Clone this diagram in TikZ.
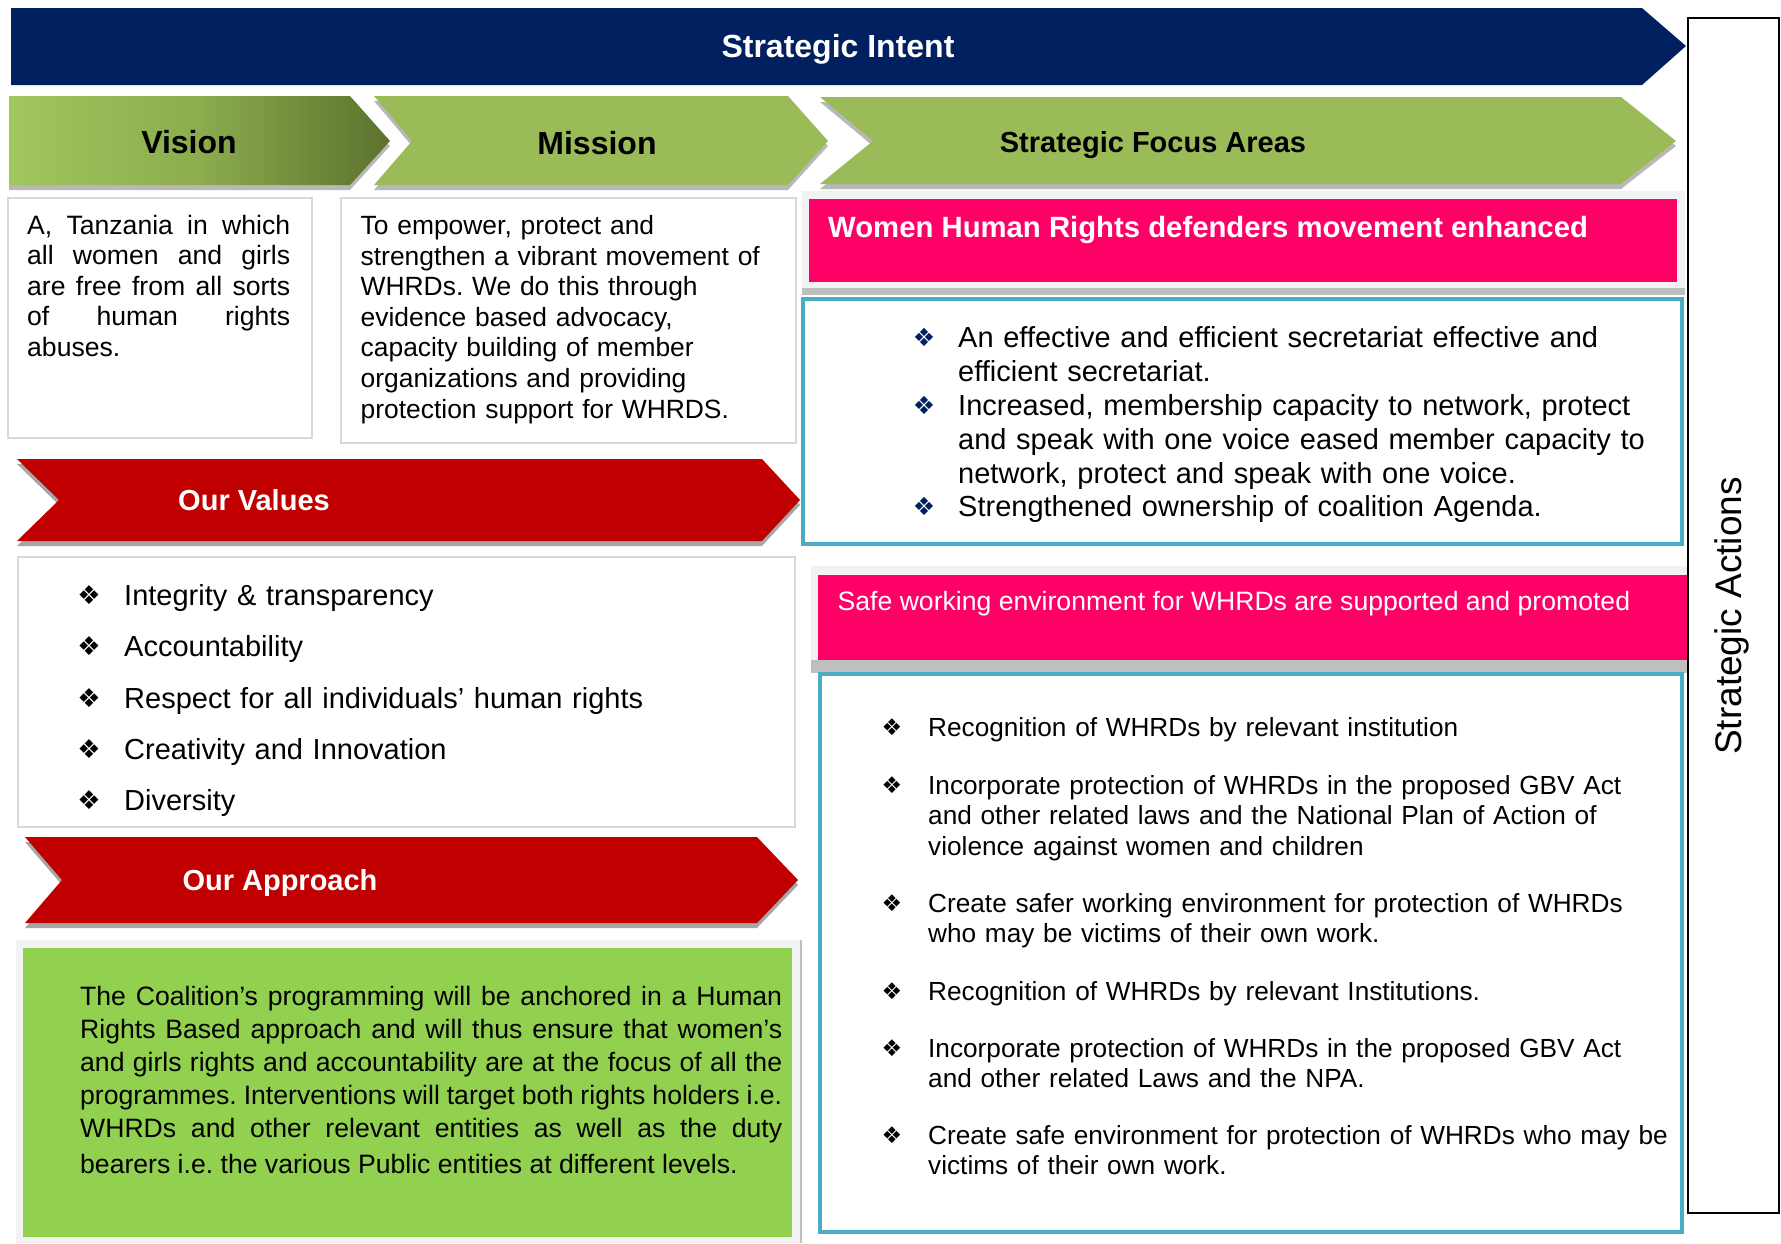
\documentclass[tikz,border=0pt]{standalone}
\usepackage{fontspec}
\setmainfont{Liberation Sans}
\newfontfamily\dingfont{DejaVu Sans}
\definecolor{intentNavy}{RGB}{0,32,96}
\definecolor{leafGreen}{RGB}{155,187,89}
\definecolor{leafLight}{RGB}{162,198,94}
\definecolor{leafMid}{RGB}{140,172,78}
\definecolor{leafDark}{RGB}{92,114,45}
\definecolor{valueRed}{RGB}{192,0,0}
\definecolor{focusPink}{RGB}{255,0,102}
\definecolor{frameCyan}{RGB}{75,172,198}
\definecolor{approachGreen}{RGB}{146,208,80}
\definecolor{panelGray}{RGB}{242,242,242}
\definecolor{edgeGray}{RGB}{217,217,217}
\definecolor{stripGray}{RGB}{191,191,191}
\definecolor{shadowGray}{RGB}{166,166,166}
\newcommand{\dingbullet}{{\dingfont ❖}}
\frenchspacing

\begin{document}
\begin{tikzpicture}[x=1pt, y=-1pt,
    banner/.style={font=\bfseries\fontsize{32}{36}\selectfont, anchor=base, inner sep=0pt},
    headsmall/.style={font=\bfseries\fontsize{29}{34}\selectfont, anchor=base, inner sep=0pt},
    bodytext/.style={font=\fontsize{26.4}{30.6}\selectfont, anchor=base west, inner sep=0pt, align=left, text width=#1},
    listtext/.style={font=\fontsize{29}{34}\selectfont, anchor=base west, inner sep=0pt, align=left, text width=#1},
    dia/.style={font=\fontsize{#1}{#1}\selectfont, inner sep=0pt},
    lift/.style={preaction={fill=black, opacity=.28, transform canvas={yshift=-5pt}}},
    ribbon/.style={fill=valueRed, preaction={fill=shadowGray, transform canvas={yshift=-5pt}}},
  ]
  \fill[white] (0,0) rectangle (1781,1243);
  \useasboundingbox (0,0) rectangle (1781,1243);

  % top banner and side box
  \fill[intentNavy] (11,8) -- (1642,8) -- (1686,46) -- (1642,85) -- (11,85) -- cycle;
  \node[banner, text=white] (intent) at (838,57.5) {Strategic Intent};
  \draw[line width=2.5pt, fill=white] (1688,18) rectangle (1779,1213);
  \node[font=\fontsize{37}{40}\selectfont, rotate=90, anchor=base, inner sep=0pt] (actions) at (1741,616) {Strategic Actions};

  % chevrons
  \shade[lift, left color=leafLight, right color=leafDark, middle color=leafMid]
    (9,96) -- (350,96) -- (390,141) -- (350,185) -- (9,185) -- cycle;
  \fill[lift, leafGreen] (374,96) -- (788,96) -- (828,141) -- (788,185) -- (374,185) -- (412,141) -- cycle;
  \fill[lift, leafGreen] (820,97) -- (1621,97) -- (1676,141) -- (1621,184) -- (820,184) -- (873,141) -- cycle;
  \node[banner] (vision) at (189,153.5) {Vision};
  \node[banner] (mission) at (597,154.5) {Mission};
  \node[headsmall] (focus) at (1153,152.5) {Strategic Focus Areas};

  % vision and mission
  \draw[edgeGray, line width=2.5pt, fill=white] (8,198) rectangle (312,438);
  \draw[edgeGray, line width=2.5pt, fill=white] (341,198) rectangle (796,443);
  \node[bodytext=263, align=justify, font=\fontsize{26.6}{30.6}\selectfont] (visiontext) at (27,234)
    {A, Tanzania in which\linebreak all women and girls\linebreak are free from all sorts\linebreak of human rights\linebreak abuses.};
  \node[bodytext=440] (missiontext) at (360.5,234.5)
    {To empower, protect and\\strengthen a vibrant movement of\\WHRDs. We do this through\\evidence based advocacy,\\capacity building of member\\organizations and providing\\protection support for WHRDS.};

  % first focus area
  \fill[panelGray] (802,191) rectangle (1685,295);
  \fill[stripGray] (802,288) rectangle (1685,295);
  \fill[focusPink] (809,199) rectangle (1677,282);
  \node[headsmall, anchor=base west, text=white, font=\bfseries\fontsize{29.3}{34}\selectfont] (focusone) at (828,237)
    {Women Human Rights defenders movement enhanced};
  \draw[frameCyan, line width=4pt, fill=white] (803,299) rectangle (1682,544);
  \foreach \yc/\txt [count=\k] in {
      337/{An effective and efficient secretariat effective and\\efficient secretariat.},
      405/{Increased, membership capacity to network, protect\\and speak with one voice eased member capacity to\\network, protect and speak with one voice.},
      506/{Strengthened ownership of coalition Agenda.}} {
    \node[dia=25, text=intentNavy] (secmark\k) at (924,\yc) {\dingbullet};
    \node[listtext=720] (sec\k) at (958,\yc+10.2) {\txt};
  }

  % values
  \fill[ribbon] (17,459) -- (762,459) -- (800,500) -- (762,541) -- (17,541) -- (59,500) -- cycle;
  \node[headsmall, text=white] (values) at (254,510) {Our Values};
  \draw[edgeGray, line width=1.5pt, fill=white] (18,557) rectangle (795,827);
  \foreach \yc/\txt [count=\k] in {595/{Integrity \& transparency}, 646/{Accountability},
      698/{Respect for all individuals’ human rights}, 749/{Creativity and Innovation}, 800/{Diversity}} {
    \node[dia=26] (valmark\k) at (89,\yc) {\dingbullet};
    \node[listtext=660] (val\k) at (124,\yc+10.2) {\txt};
  }

  % approach
  \fill[ribbon] (25,837) -- (757,837) -- (798,880) -- (757,923) -- (25,923) -- (62,880) -- cycle;
  \node[headsmall, text=white] (approach) at (280,890) {Our Approach};
  \fill[panelGray] (16,940) rectangle (801,1243);
  \draw[stripGray, line width=1.5pt] (801,940) -- (801,1243);
  \fill[approachGreen] (23,948) rectangle (792,1237);
  \node[bodytext=702, align=justify, font=\fontsize{26.6}{33}\selectfont] (approachtext) at (80,1005)
    {The Coalition’s programming will be anchored in a Human\linebreak
     Rights Based approach and will thus ensure that women’s\linebreak
     and girls rights and accountability are at the focus of all the\linebreak
     programmes. Interventions will target both rights holders i.e.\linebreak
     WHRDs and other relevant entities as well as the duty\vadjust{\vskip3pt}\linebreak
     bearers i.e. the various Public entities at different levels.};

  % second focus area
  \fill[panelGray] (811,566) rectangle (1687,673);
  \fill[stripGray] (811,660) rectangle (1687,673);
  \fill[focusPink] (818,575) rectangle (1687,660);
  \node[font=\fontsize{26.6}{30}\selectfont, anchor=base west, inner sep=0pt, text=white] (focustwo) at (837.5,610)
    {Safe working environment for WHRDs are supported and promoted};
  \draw[frameCyan, line width=4pt, fill=white] (820,674) rectangle (1682,1232);
  \foreach \yc/\txt [count=\k] in {
      727/{Recognition of WHRDs by relevant institution},
      785/{Incorporate protection of WHRDs in the proposed GBV Act\\and other related laws and the National Plan of Action of\\violence against women and children},
      903/{Create safer working environment for protection of WHRDs\\who may be victims of their own work.},
      991/{Recognition of WHRDs by relevant Institutions.},
      1048/{Incorporate protection of WHRDs in the proposed GBV Act\\and other related Laws and the NPA.},
      1135/{Create safe environment for protection of WHRDs who may be\\victims of their own work.}} {
    \node[dia=23] (actmark\k) at (892,\yc) {\dingbullet};
    \node[bodytext=770, font=\fontsize{26.2}{30.6}\selectfont] (act\k) at (928,\yc+9.2) {\txt};
  }
\end{tikzpicture}
\end{document}
